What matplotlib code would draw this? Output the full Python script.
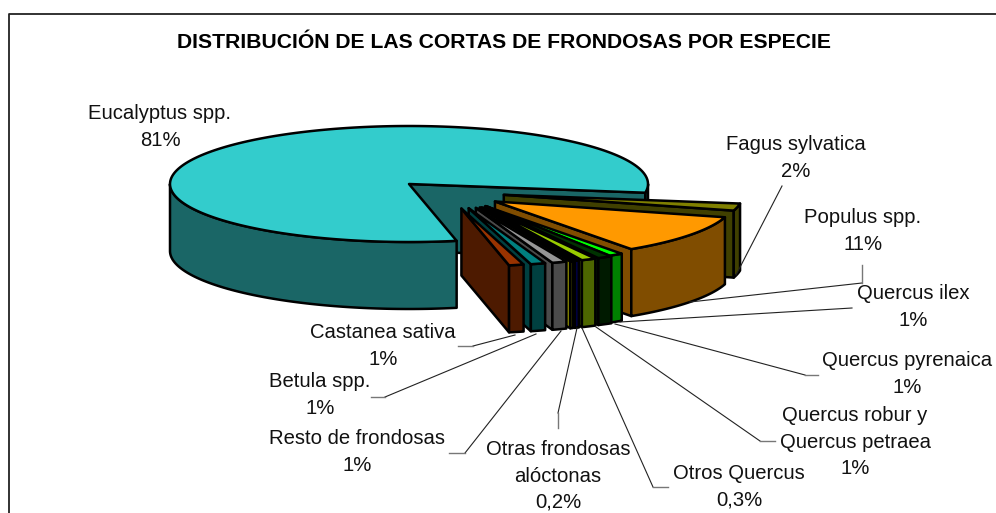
from matplotlib import pyplot as plt
from matplotlib.patches import Polygon
import numpy as np

plt.rcParams['font.family'] = ['Liberation Sans', 'DejaVu Sans']

title = 'DISTRIBUCIÓN DE LAS CORTAS DE FRONDOSAS POR ESPECIE'
species = ['Eucalyptus spp.', 'Fagus sylvatica', 'Populus spp.', 'Quercus ilex',
           'Quercus pyrenaica', 'Quercus robur y\nQuercus petraea', 'Otros Quercus',
           'Otras frondosas\nalóctonas', 'Resto de frondosas', 'Betula spp.',
           'Castanea sativa']
values = [81, 2, 11, 1, 1, 1, 0.3, 0.2, 1, 1, 1]
value_labels = ['81%', '2%', '11%', '1%', '1%', '1%', '0,3%', '0,2%', '1%', '1%', '1%']

top_colors = ['#33CCCC', '#808000', '#FF9900', '#00FF00', '#003300', '#99CC00',
              '#000080', '#FFFF00', '#969696', '#008080', '#993300']
side_colors = ['#1A6666', '#404000', '#804D00', '#008000', '#001A00', '#4D6600',
               '#000040', '#808000', '#4B4B4B', '#004040', '#4D1A00']

# label centres in pixels
label_pos = [(160, 127), (796, 158), (863, 231), (913, 307), (907, 374), (855, 442),
             (739, 487), (558, 476), (357, 452), (320, 395), (383, 346)]

# leader lines in pixels
leaders = [None,
           [(736, 275), (782, 186)],
           [(690, 302), (862, 283), (862, 265)],
           [(620, 322), (852, 308)],
           [(615, 324), (805, 375), (818, 375)],
           [(596, 327), (760, 441), (775, 441)],
           [(582, 328), (653, 487), (668, 487)],
           [(577, 328), (558, 413), (558, 428)],
           [(561, 331), (465, 453), (449, 453)],
           [(536, 334), (385, 397), (371, 397)],
           [(515, 335), (473, 346), (458, 346)]]

# pie geometry in pixels
cx, cy = 409, 184
rx, ry = 239, 58
depth = 67
start_angle = 78.5
edge = dict(edgecolor='black', linewidth=1.8, joinstyle='round')
# small slices sit a little further right than the fitted offset gives
extra_x = [0, 0, 0, 5, 10, 10, 9, 8, 6, 2, -2]


def rim(ox, oy, angles):
    rad = np.radians(angles)
    return np.column_stack([ox + rx * np.cos(rad), oy + ry * np.sin(rad)])


def explode(t_mid):
    # offset of a slice from the centre, fitted to the picture
    rad = np.radians(t_mid)
    return 42 + 54 * np.cos(rad), 7 + 18 * np.sin(rad)


fig = plt.figure(figsize=(9.96, 5.13), dpi=100)
ax = fig.add_axes([0, 0, 1, 1])
ax.set_xlim(0, 996)
ax.set_ylim(513, 0)
ax.axis('off')

ax.plot([8.5, 8.5, 996], [513, 13.5, 13.5], color='#222222', lw=1.3)

total = sum(values)
t0 = start_angle
for i, v in enumerate(values):
    t1 = t0 + 360 * v / total
    if i == 0:
        ox, oy = cx, cy
    else:
        dx, dy = explode((t0 + t1) / 2)
        ox, oy = cx + dx + extra_x[i], cy + dy
    top = rim(ox, oy, np.linspace(t0, t1, 200))

    # end wall, faces the viewer when the cut points to the right
    if np.cos(np.radians(t1)) > 0:
        p = rim(ox, oy, [t1])[0]
        wall = [(ox, oy), tuple(p), (p[0], p[1] + depth), (ox, oy + depth)]
        ax.add_patch(Polygon(wall, closed=True, facecolor=side_colors[i], **edge))
    if np.cos(np.radians(t0)) < 0:
        p = rim(ox, oy, [t0])[0]
        wall = [(ox, oy), tuple(p), (p[0], p[1] + depth), (ox, oy + depth)]
        ax.add_patch(Polygon(wall, closed=True, facecolor=side_colors[i], **edge))

    # outer rim, only the front half shows
    for a, b in [(t0, min(t1, 180)), (max(t0, 360), t1)]:
        if b > a:
            front = rim(ox, oy, np.linspace(a, b, 100))
            shifted = front + [0, depth]
            outline = np.vstack([front, shifted[::-1]])
            ax.add_patch(Polygon(outline, closed=True, facecolor=side_colors[i], **edge))

    ax.add_patch(Polygon(np.vstack([[ox, oy], top]), closed=True,
                         facecolor=top_colors[i], **edge))
    t0 = t1

for line in leaders:
    if line is not None:
        xs, ys = zip(*line)
        ax.plot(xs[:2], ys[:2], color='#222222', lw=0.8, zorder=1)
        if len(line) > 2:
            ax.plot(xs[1:], ys[1:], color='#777777', lw=1.0, zorder=1)

for name, val, pos in zip(species, value_labels, label_pos):
    ax.text(pos[0], pos[1], name + '\n' + val, ha='center', va='center',
            fontsize=14.6, color='#111111', linespacing=1.5)

ax.text(504, 42, title, ha='center', va='center', fontsize=15.2, fontweight='bold',
        color='black')

fig.savefig('out.png', dpi=100)
